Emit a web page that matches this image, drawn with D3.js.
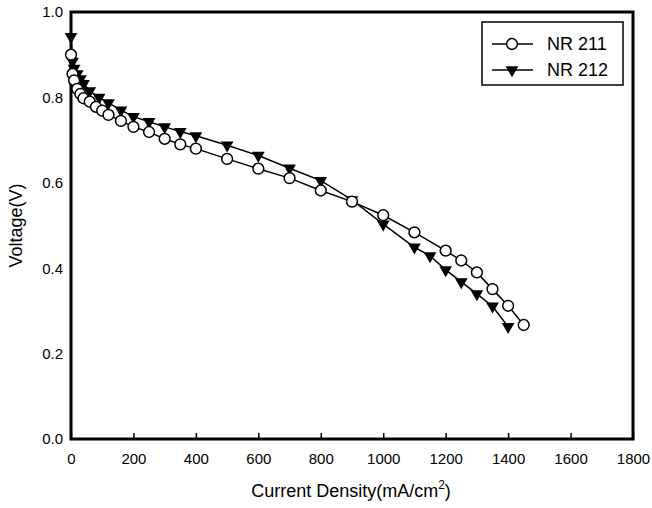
<!DOCTYPE html>
<html>
<head>
<meta charset="utf-8">
<script src="https://cdn.jsdelivr.net/npm/d3@7"></script>
<style>
  body { margin: 0; background: #fff; }
  text { font-family: "Liberation Sans", Arial, sans-serif; fill: #000; }
</style>
</head>
<body>
<script>
// Polarization curves
var nr211Current = [0, 5, 10, 20, 30, 40, 60, 80, 100, 120, 160, 200, 250, 300, 350, 400, 500, 600, 700, 800, 900, 1000, 1100, 1200, 1250, 1300, 1350, 1400, 1450];
var nr211Voltage = [0.90, 0.855, 0.84, 0.82, 0.808, 0.798, 0.79, 0.778, 0.769, 0.759, 0.745, 0.731, 0.719, 0.703, 0.690, 0.680, 0.656, 0.633, 0.611, 0.582, 0.556, 0.524, 0.484, 0.441, 0.418, 0.390, 0.351, 0.312, 0.267];

var nr212Current = [0, 5, 10, 20, 30, 40, 60, 90, 120, 160, 200, 250, 300, 350, 400, 500, 600, 700, 800, 900, 1000, 1100, 1150, 1200, 1250, 1300, 1350, 1400];
var nr212Voltage = [0.942, 0.884, 0.868, 0.855, 0.843, 0.832, 0.815, 0.800, 0.787, 0.770, 0.755, 0.743, 0.731, 0.720, 0.710, 0.688, 0.664, 0.634, 0.605, 0.560, 0.503, 0.449, 0.429, 0.396, 0.368, 0.340, 0.311, 0.263];

var xTicks = [0, 200, 400, 600, 800, 1000, 1200, 1400, 1600, 1800];
var yTicks = [0.0, 0.2, 0.4, 0.6, 0.8, 1.0];
var seriesNames = ["NR 211", "NR 212"];

(function() {
  var width = 652, height = 508;
  var left = 71, right = 633, top = 12, bottom = 439;

  var svg = d3.select("body").append("svg")
      .attr("width", width)
      .attr("height", height);

  var x = d3.scaleLinear().domain([0, 1800]).range([left, right]);
  var y = d3.scaleLinear().domain([0, 1]).range([bottom, top]);

  // x axis, ticks pointing inward
  var xAxis = svg.append("g")
      .attr("transform", "translate(0," + bottom + ")")
      .call(d3.axisBottom(x).tickValues(xTicks).tickSize(-6).tickPadding(14).tickFormat(d3.format("d")));
  xAxis.select(".domain").remove();
  xAxis.selectAll("line").attr("stroke", "#000").attr("stroke-width", 1.5);
  xAxis.selectAll("text").style("font-size", "15px");

  var yAxis = svg.append("g")
      .attr("transform", "translate(" + left + ",0)")
      .call(d3.axisLeft(y).tickValues(yTicks).tickSize(0).tickPadding(8).tickFormat(d3.format(".1f")));
  yAxis.select(".domain").remove();
  yAxis.selectAll("text").style("font-size", "15px");

  // frame
  svg.append("rect")
      .attr("x", left).attr("y", top)
      .attr("width", right - left).attr("height", bottom - top)
      .attr("fill", "none").attr("stroke", "#000").attr("stroke-width", 3);

  var line = d3.line()
      .x(function(d) { return x(d[0]); })
      .y(function(d) { return y(d[1]); });

  var data211 = nr211Current.map(function(c, i) { return [c, nr211Voltage[i]]; });
  var data212 = nr212Current.map(function(c, i) { return [c, nr212Voltage[i]]; });

  svg.append("path").datum(data212).attr("d", line)
      .attr("fill", "none").attr("stroke", "#000").attr("stroke-width", 1.5);
  svg.append("path").datum(data211).attr("d", line)
      .attr("fill", "none").attr("stroke", "#000").attr("stroke-width", 1.5);

  var tri = d3.symbol().type(d3.symbolTriangle).size(70);

  svg.selectAll(".tri").data(data212).enter().append("path")
      .attr("class", "tri")
      .attr("d", tri)
      .attr("transform", function(d) { return "translate(" + x(d[0]) + "," + y(d[1]) + ") rotate(180)"; })
      .attr("fill", "#000");

  svg.selectAll(".circ").data(data211).enter().append("circle")
      .attr("class", "circ")
      .attr("cx", function(d) { return x(d[0]); })
      .attr("cy", function(d) { return y(d[1]); })
      .attr("r", 5.4)
      .attr("fill", "#fff").attr("stroke", "#000").attr("stroke-width", 1.5);

  // legend
  var legend = svg.append("g");
  legend.append("rect")
      .attr("x", 482).attr("y", 22).attr("width", 141).attr("height", 63)
      .attr("fill", "#fff").attr("stroke", "#000").attr("stroke-width", 1.5);
  seriesNames.forEach(function(name, i) {
    var ly = 44 + i * 26;
    legend.append("line")
        .attr("x1", 492).attr("x2", 533).attr("y1", ly).attr("y2", ly)
        .attr("stroke", "#000").attr("stroke-width", 1.5);
    if (i == 0) {
      legend.append("circle").attr("cx", 512).attr("cy", ly).attr("r", 5.4)
          .attr("fill", "#fff").attr("stroke", "#000").attr("stroke-width", 1.5);
    } else {
      legend.append("path").attr("d", tri)
          .attr("transform", "translate(512," + ly + ") rotate(180)")
          .attr("fill", "#000");
    }
    legend.append("text")
        .attr("x", 547).attr("y", ly + 6)
        .style("font-size", "18px")
        .text(name);
  });

  // axis titles
  var xt = svg.append("text")
      .attr("x", (left + right) / 2 - 1).attr("y", 497)
      .attr("text-anchor", "middle")
      .style("font-size", "18px");
  xt.append("tspan").text("Current Density(mA/cm");
  xt.append("tspan").attr("dy", -8).style("font-size", "12px").text("2");
  xt.append("tspan").attr("dy", 8).text(")");

  svg.append("text")
      .attr("transform", "translate(22," + ((top + bottom) / 2) + ") rotate(-90)")
      .attr("text-anchor", "middle")
      .style("font-size", "18px")
      .text("Voltage(V)");
})();
</script>
</body>
</html>
